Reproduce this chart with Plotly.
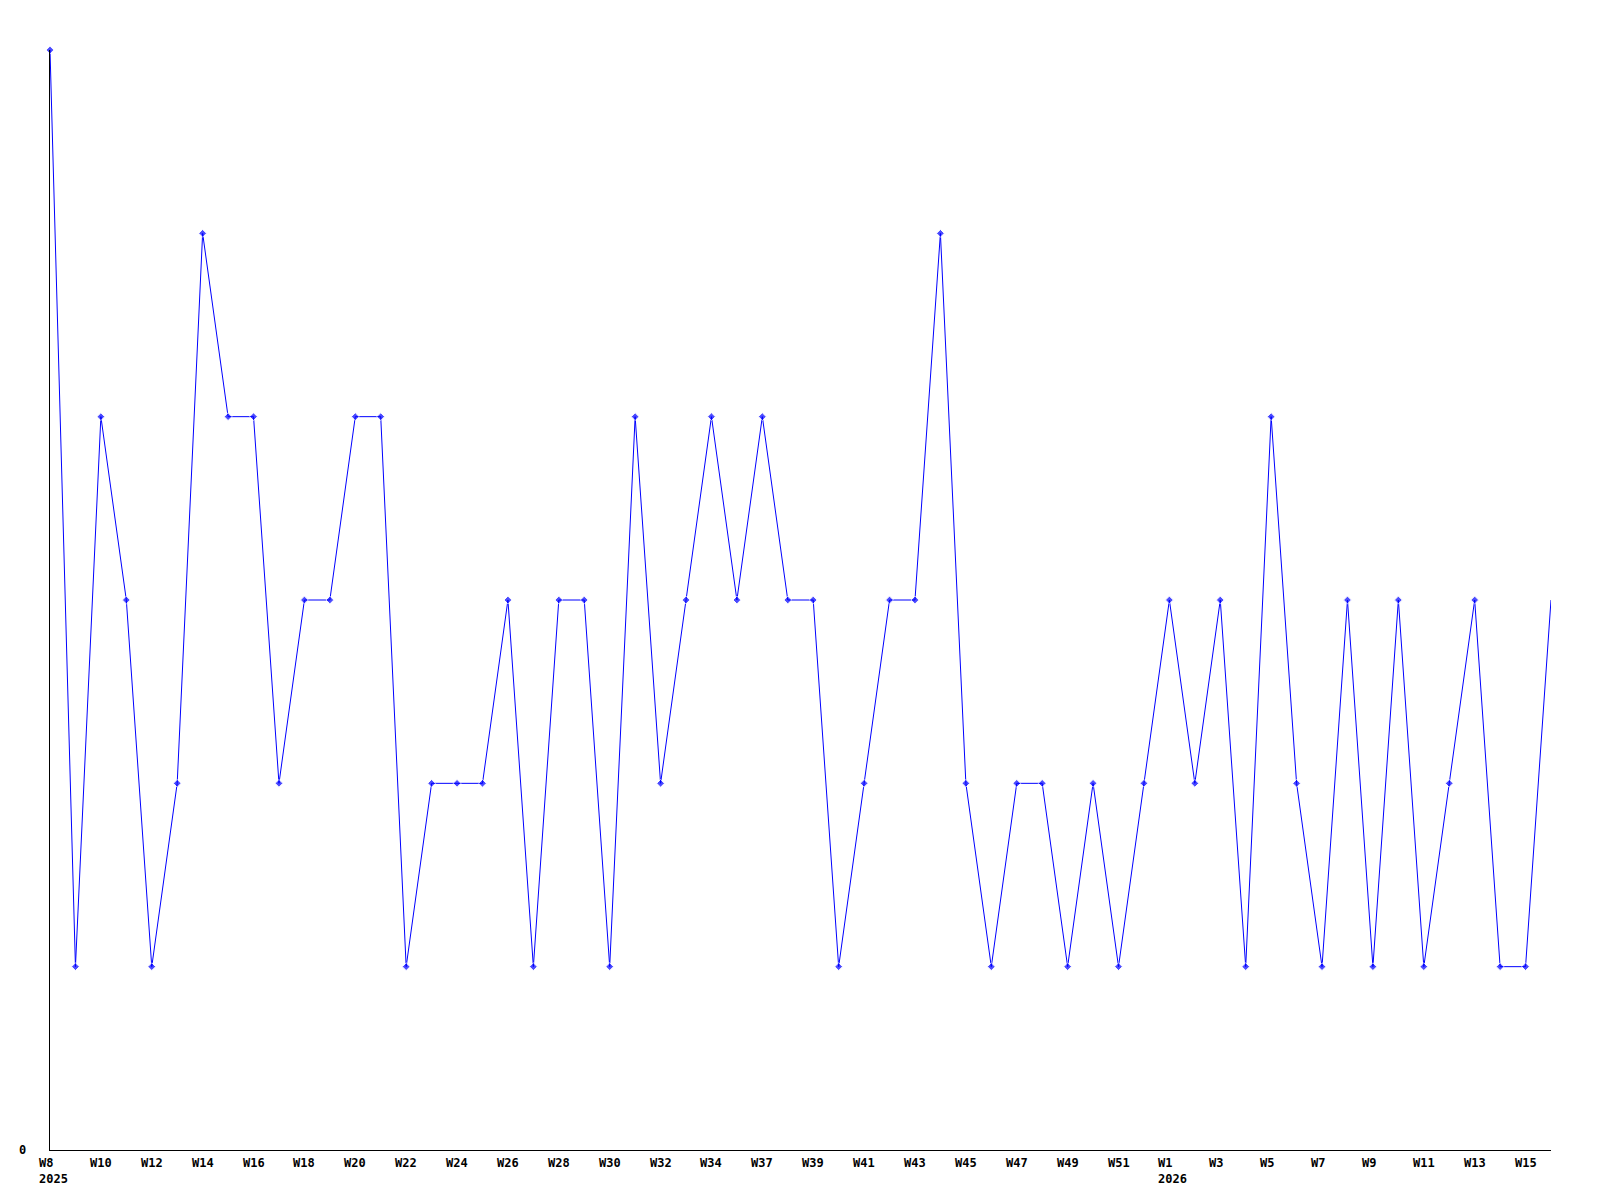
import plotly.graph_objects as go

weeks = ["W8", "W9", "W10", "W11", "W12", "W13", "W14", "W15", "W16", "W17",
         "W18", "W19", "W20", "W21", "W22", "W23", "W24", "W25", "W26", "W27",
         "W28", "W29", "W30", "W31", "W32", "W33", "W34", "W36", "W37", "W38",
         "W39", "W40", "W41", "W42", "W43", "W44", "W45", "W46", "W47", "W48",
         "W49", "W50", "W51", "W52", "W1", "W2", "W3", "W4", "W5", "W6",
         "W7", "W8", "W9", "W10", "W11", "W12", "W13", "W14", "W15", "W16"]
years = ["2025"] * 44 + ["2026"] * 16
values = [6, 1, 4, 3, 1, 2, 5, 4, 4, 2,
          3, 3, 4, 4, 1, 2, 2, 2, 3, 1,
          3, 3, 1, 4, 2, 3, 4, 3, 4, 3,
          3, 1, 2, 3, 3, 5, 2, 1, 2, 2,
          1, 2, 1, 2, 3, 2, 3, 1, 4, 2,
          1, 3, 1, 3, 1, 2, 3, 1, 1, 3]

xs = list(range(len(values)))
font = dict(family="DejaVu Sans Mono", size=12, color="black")

fig = go.Figure()
fig.add_trace(go.Scatter(
    x=xs, y=values, mode="lines+markers",
    line=dict(color="#0000ff", width=1),
    marker=dict(symbol="diamond", size=[6] * (len(values) - 1) + [0], color="#0000ff"),
    cliponaxis=False, showlegend=False,
))

annotations = []
for i in range(0, len(weeks), 2):
    txt = "<b>" + weeks[i] + "</b>"
    if i == 0 or (years[i] != years[i - 1]):
        txt += "<br><b>" + years[i] + "</b>"
    annotations.append(dict(
        x=xs[i], xref="x", y=0, yref="paper", yanchor="top", xanchor="left",
        xshift=-13, yshift=-4, text=txt, showarrow=False, align="left", font=font,
    ))
annotations.append(dict(
    x=0, xref="paper", y=0, yref="y", xanchor="right", yanchor="middle",
    xshift=-22, text="<b>0</b>", showarrow=False, font=font,
))

fig.update_layout(
    width=1592, height=1192,
    margin=dict(l=42, r=49, t=42, b=50, autoexpand=False),
    paper_bgcolor="white", plot_bgcolor="white",
    annotations=annotations,
    xaxis=dict(range=[0, len(values) - 1], showgrid=False, zeroline=False,
               showticklabels=False, showline=True, linecolor="black", linewidth=1,
               ticks=""),
    yaxis=dict(range=[0, 6], showgrid=False, zeroline=False, showticklabels=False,
               showline=True, linecolor="black", linewidth=1, ticks=""),
)

fig.write_html("out.html")
